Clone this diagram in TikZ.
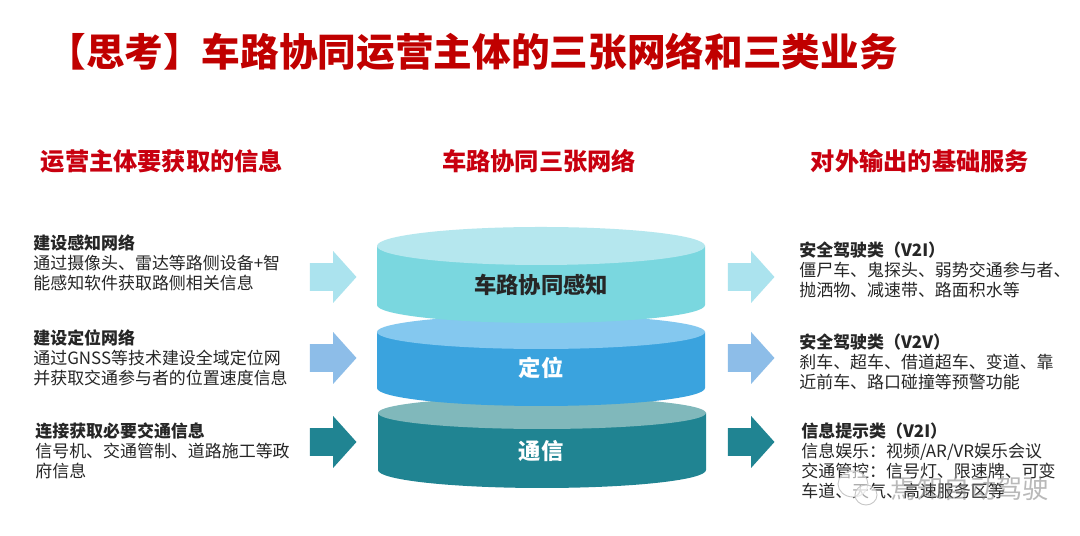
\documentclass[tikz,border=0pt]{standalone}
\usepackage{fontspec}
\setmainfont{Noto Sans CJK SC}
\usepackage{tikz}
\usetikzlibrary{shapes.arrows}
\definecolor{titlered}{HTML}{C00000}
\definecolor{headred}{HTML}{C8000F}
\definecolor{bodytext}{HTML}{262626}
\definecolor{senseside}{HTML}{7AD7DF}
\definecolor{sensetop}{HTML}{B5E7EE}
\definecolor{senseflow}{HTML}{ABE3EE}
\definecolor{locside}{HTML}{3AA3DE}
\definecolor{loctop}{HTML}{84C8EF}
\definecolor{locflow}{HTML}{8DBDE8}
\definecolor{commside}{HTML}{208492}
\definecolor{commtop}{HTML}{80B8BB}

\begin{document}
\begin{tikzpicture}[x=0.02cm, y=0.02cm]

\tikzstyle{title} = [anchor=west, inner sep=0pt, font=\fontsize{22}{26}\selectfont\bfseries, text=titlered]
\tikzstyle{head} = [inner sep=0pt, font=\fontsize{13.8}{16}\selectfont\bfseries, text=headred]
\tikzstyle{info} = [anchor=west, inner sep=0pt, align=left, text=bodytext, font=\fontsize{9.65}{11.4}\selectfont]
\tikzstyle{flow} = [single arrow, single arrow head extend=0.24cm, single arrow tip angle=96, minimum height=0.93cm, inner xsep=0pt, inner ysep=0.27cm]
\tikzstyle{label} = [inner sep=0pt, font=\fontsize{12.7}{15}\selectfont]
\tikzstyle{bubble} = [draw=gray!45, fill=white, fill opacity=0.6, line width=0.5pt]

\useasboundingbox (0,0) rectangle (1080,536);
\fill [white] (0,0) rectangle (1080,536);

\node (title) [title] at (47,484) {【思考】车路协同运营主体的三张网络和三类业务};
\node (headin) [head] at (162,375) {运营主体要获取的信息};
\node (headnet) [head] at (539,375) {车路协同三张网络};
\node (headout) [head] at (920,375) {对外输出的基础服务};

% stack, lowest first
\fill [commside] (378,123) -- (378,66) arc [start angle=180, end angle=360, x radius=164, y radius=18] -- (706,123) -- cycle;
\fill [commtop] (542,123) ellipse [x radius=164, y radius=16];
\fill [locside] (377,204) -- (377,148) arc [start angle=180, end angle=360, x radius=164, y radius=18] -- (705,204) -- cycle;
\fill [loctop] (541,204) ellipse [x radius=164, y radius=17];
\fill [senseside] (377,290) -- (377,231) arc [start angle=180, end angle=360, x radius=164, y radius=18] -- (705,290) -- cycle;
\fill [sensetop] (541,290) ellipse [x radius=164, y radius=19];

\node (sense) [label, text=bodytext] at (541,251) {\bfseries 车路协同感知};
\node (loc) [label, text=white] at (541,168) {\bfseries 定位};
\node (comm) [label, text=white] at (541,85) {\bfseries 通信};

\node (inone) [flow, fill=senseflow] at (327,259) {};
\node (intwo) [flow, fill=locflow] at (327,178) {};
\node (inthree) [flow, fill=commside] at (327,94) {};
\node (outone) [flow, fill=senseflow] at (745,259) {};
\node (outtwo) [flow, fill=locflow] at (745,178) {};
\node (outthree) [flow, fill=commside] at (745,94) {};

\node (needone) [info] at (33,273) {\textbf{建设感知网络}\\通过摄像头、雷达等路侧设备+智\\能感知软件获取路侧相关信息};
\node (needtwo) [info] at (33,178) {\textbf{建设定位网络}\\通过GNSS等技术建设全域定位网\\并获取交通参与者的位置速度信息};
\node (needthree) [info] at (35,85) {\textbf{连接获取必要交通信息}\\信号机、交通管制、道路施工等政\\府信息};

\node (servone) [info] at (799,266) {\textbf{安全驾驶类（V2I）}\\僵尸车、鬼探头、弱势交通参与者、\\抛洒物、减速带、路面积水等};
\node (servtwo) [info] at (799,174) {\textbf{安全驾驶类（V2V）}\\刹车、超车、借道超车、变道、靠\\近前车、路口碰撞等预警功能};
\node (servthree) [info] at (801,75) {\textbf{信息提示类（V2I）}\\信息娱乐：视频/AR/VR娱乐会议\\交通管控：信号灯、限速牌、可变\\车道、天气、高速服务区等};

% watermark over the last lines
\draw [bubble] (853,52) ellipse [x radius=15, y radius=13];
\draw [bubble] (866,41) ellipse [x radius=11, y radius=10];
\node (stamp) [inner sep=0pt, text=gray, opacity=0.55, font=\fontsize{15}{18}\selectfont] at (970,48) {焉知自动驾驶};

\end{tikzpicture}
\end{document}
